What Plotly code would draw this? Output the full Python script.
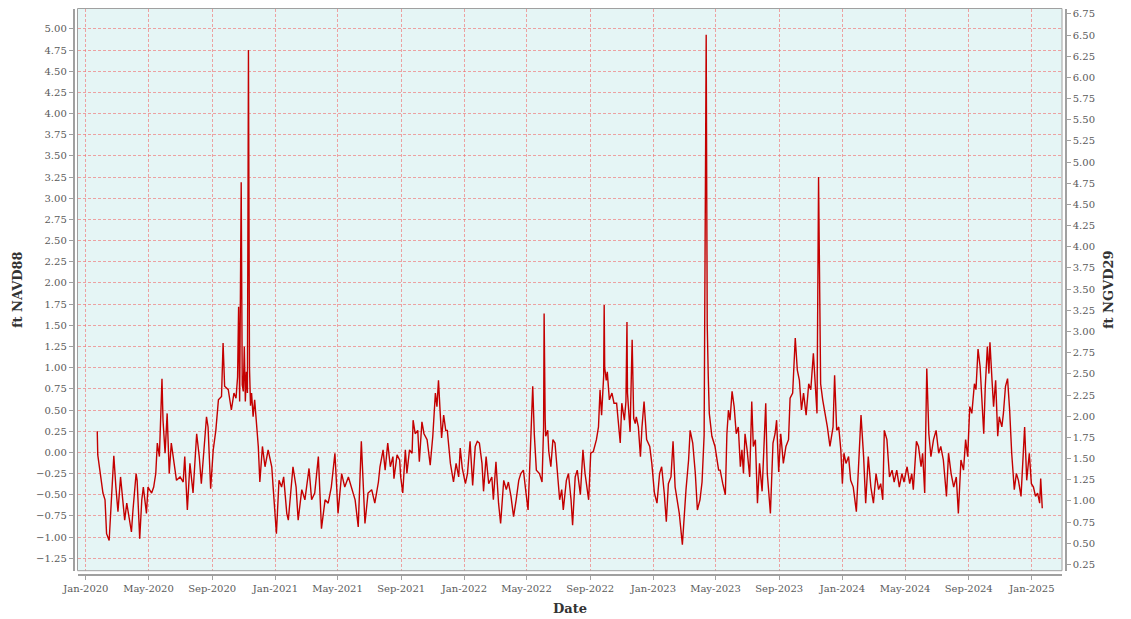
import pandas as pd
import plotly.graph_objects as go

# ---------------- data ----------------
START_DATE = "2020-01-01"          # day offsets below count from this date
NGVD29_OFFSET = 1.573              # ft NGVD29 = ft NAVD88 + offset

days_2020 = [22, 23, 27, 33, 37, 40, 45, 48, 53, 54, 58, 62, 67, 71, 75, 79, 84, 88, 91, 97,
             99, 104, 108, 111, 117, 120, 127, 131, 135, 138, 142, 147, 149, 153, 157, 161, 165, 169, 175, 182,
             188, 191, 196, 201, 207, 214, 219, 223, 228, 233, 236, 241, 246, 251, 256, 262, 265, 268, 275, 281,
             286, 290, 293, 295, 297, 300, 302, 304, 306, 308, 310, 312, 314, 316, 318, 320, 323, 326, 333, 336,
             341, 346, 352, 359, 362, 368, 373, 378, 382, 388, 391, 395, 400, 406, 410, 417, 423, 431, 436, 442,
             449, 455, 462, 468, 474, 481, 487, 494, 500, 507, 513, 520, 526, 532, 539, 545, 552, 558, 565]
level_2020 = [0.25, -0.03, -0.21, -0.48, -0.56, -0.96, -1.04, -0.72, -0.09, -0.04,
              -0.41, -0.70, -0.29, -0.52, -0.80, -0.60, -0.80, -0.94, -0.68, -0.25,
              -0.33, -1.02, -0.56, -0.41, -0.72, -0.41, -0.48, -0.41, -0.25, 0.11,
              -0.05, 0.87, 0.38, -0.01, 0.46, -0.25, 0.11, -0.09, -0.33, -0.29,
              -0.35, -0.05, -0.68, -0.13, -0.48, 0.22, -0.05, -0.37, 0.03, 0.42,
              0.30, -0.43, 0.03, 0.26, 0.62, 0.66, 1.29, 0.78, 0.74, 0.50,
              0.70, 0.64, 0.89, 1.72, 0.60, 3.19, 0.80, 0.72, 1.25, 0.60,
              0.95, 0.70, 4.75, 1.00, 0.55, 0.70, 0.42, 0.62, 0.07, -0.35,
              0.07, -0.17, 0.03, -0.17, -0.44, -0.96, -0.33, -0.41, -0.29, -0.72,
              -0.80, -0.48, -0.17, -0.41, -0.80, -0.44, -0.56, -0.19, -0.56, -0.48,
              -0.05, -0.90, -0.56, -0.60, -0.41, -0.01, -0.72, -0.25, -0.41, -0.29,
              -0.41, -0.56, -0.88, 0.13, -0.84, -0.48, -0.44, -0.60, -0.35]

days_2021_23 = [568, 574, 578, 583, 588, 593, 595, 601, 606, 608, 612, 617, 620, 625, 630, 632, 636, 641, 644, 649,
                653, 659, 665, 670, 675, 678, 681, 684, 687, 691, 695, 698, 704, 710, 715, 720, 723, 727, 733, 737,
                742, 747, 752, 756, 760, 765, 768, 773, 778, 784, 787, 792, 797, 801, 807, 812, 816, 821, 826, 831,
                836, 840, 845, 850, 854, 858, 863, 866, 870, 876, 881, 884, 885, 887, 888, 892, 894, 898, 902, 906,
                911, 915, 919, 922, 928, 932, 937, 940, 945, 949, 955, 960, 964, 971, 975, 980, 986, 990, 993, 996,
                1000, 1001, 1002, 1005, 1007, 1011, 1016, 1020, 1025, 1029, 1032, 1035, 1040, 1043, 1045, 1046, 1048,
                1051, 1055, 1058, 1061, 1063, 1067, 1071, 1074, 1078, 1083, 1089, 1093, 1098, 1103, 1108, 1112, 1117,
                1121, 1125, 1130, 1134, 1138, 1143, 1146, 1152, 1155, 1159, 1164, 1167, 1172, 1177, 1181, 1186, 1190,
                1194, 1198, 1200, 1202, 1204, 1209, 1215, 1222]
level_2021_23 = [-0.17, 0.03, -0.21, 0.11, -0.17, -0.05, -0.31, -0.03, -0.09, -0.29,
                 -0.48, 0.03, -0.25, 0.03, -0.01, 0.38, 0.22, 0.26, -0.11, 0.36,
                 0.22, 0.15, -0.15, 0.19, 0.70, 0.54, 0.85, 0.50, 0.17, 0.44,
                 0.26, 0.26, -0.13, -0.35, -0.13, -0.29, 0.05, -0.19, -0.37, -0.25,
                 0.13, -0.39, 0.07, 0.13, 0.11, -0.13, -0.46, -0.05, -0.37, -0.29,
                 -0.56, -0.11, -0.60, -0.84, -0.33, -0.44, -0.35, -0.52, -0.76, -0.56,
                 -0.33, -0.25, -0.21, -0.48, -0.68, -0.05, 0.78, 0.22, -0.21, -0.25,
                 -0.35, 0.30, 1.64, 0.40, 0.19, 0.26, 0.01, -0.17, 0.15, 0.11,
                 -0.25, -0.56, -0.44, -0.68, -0.33, -0.25, -0.56, -0.86, -0.29, -0.21,
                 -0.50, 0.03, -0.25, -0.56, -0.01, 0.01, 0.15, 0.30, 0.74, 0.44,
                 0.90, 1.74, 1.00, 0.85, 0.95, 0.62, 0.70, 0.58, 0.58, 0.34,
                 0.11, 0.58, 0.38, 0.60, 1.54, 0.70, 0.50, 0.24, 1.33, 0.40,
                 0.34, 0.42, 0.30, -0.05, 0.30, 0.60, 0.15, 0.07, -0.13, -0.48,
                 -0.60, -0.25, -0.17, -0.48, -0.82, -0.37, -0.29, 0.13, -0.41, -0.60,
                 -0.72, -1.09, -0.76, -0.44, -0.09, 0.26, 0.11, -0.25, -0.68, -0.56,
                 -0.35, 0.20, 4.93, 1.50, 0.90, 0.46, 0.19, 0.07, -0.21]

days_2023_25 = [1225, 1230, 1235, 1238, 1241, 1244, 1248, 1252, 1256, 1260, 1264, 1267, 1270, 1273, 1277, 1282,
                1286, 1289, 1293, 1297, 1301, 1306, 1309, 1313, 1316, 1322, 1327, 1331, 1334, 1338, 1342, 1347,
                1352, 1357, 1360, 1365, 1370, 1374, 1378, 1382, 1386, 1391, 1396, 1400, 1405, 1409, 1412, 1415,
                1417, 1419, 1423, 1428, 1432, 1437, 1443, 1446, 1450, 1454, 1458, 1461, 1464, 1468, 1473, 1477,
                1482, 1488, 1492, 1497, 1502, 1506, 1511, 1516, 1521, 1526, 1531, 1535, 1539, 1542, 1547, 1552,
                1557, 1561, 1566, 1571, 1576, 1580, 1586, 1591, 1595, 1598, 1604, 1608, 1613, 1616, 1620, 1624,
                1628, 1632, 1637, 1642, 1647, 1651, 1656, 1662, 1666, 1671, 1676, 1681, 1685, 1690, 1695, 1699,
                1703, 1707, 1711, 1716, 1719, 1723, 1727, 1731, 1734, 1737, 1741, 1744, 1746, 1750, 1753, 1757,
                1761, 1764, 1769, 1772, 1776, 1780, 1784, 1788, 1793, 1797, 1801, 1806, 1810, 1813, 1817, 1822,
                1826, 1830, 1834, 1838, 1842, 1844, 1847]
level_2023_25 = [-0.21, -0.37, -0.50, 0.22, 0.50, 0.38, 0.72, 0.54, 0.22, 0.30,
                 -0.17, 0.03, -0.25, 0.22, 0.03, -0.29, 0.60, 0.07, 0.15, -0.60,
                 -0.13, -0.46, -0.01, 0.58, -0.25, -0.72, 0.11, 0.22, 0.38, -0.23,
                 0.22, -0.13, 0.07, 0.15, 0.64, 0.70, 1.35, 0.97, 0.85, 0.50,
                 0.70, 0.44, 0.81, 0.74, 1.17, 0.70, 0.46, 3.25, 1.56, 0.81,
                 0.62, 0.46, 0.30, 0.07, 0.30, 0.91, 0.26, 0.30, 0.03, -0.37,
                 -0.01, -0.13, -0.05, -0.33, -0.41, -0.70, -0.17, 0.44, -0.05, -0.60,
                 -0.05, -0.41, -0.60, -0.25, -0.44, -0.37, -0.56, 0.26, 0.15, -0.29,
                 -0.21, -0.35, -0.21, -0.41, -0.25, -0.35, -0.17, -0.37, -0.25, -0.44,
                 0.13, 0.07, -0.17, -0.01, -0.48, 0.99, 0.22, -0.05, 0.15, 0.26,
                 -0.01, 0.07, -0.09, -0.52, -0.01, -0.25, -0.41, -0.29, -0.72, -0.09,
                 -0.21, 0.15, -0.05, 0.54, 0.46, 0.81, 0.74, 1.22, 1.01, 0.62,
                 0.22, 0.78, 1.25, 0.93, 1.30, 0.85, 0.54, 0.85, 0.19, 0.42,
                 0.30, 0.46, 0.78, 0.87, 0.50, -0.01, -0.44, -0.25, -0.33, -0.52,
                 -0.05, 0.30, -0.33, -0.01, -0.37, -0.41, -0.52, -0.48, -0.60, -0.31,
                 -0.66]

Y_LEFT_RANGE = [-1.397, 5.24]
X_PAD_FRACTION = 0.0209

# ---------------- build series ----------------
day_offsets = days_2020 + days_2021_23 + days_2023_25
level_navd88 = level_2020 + level_2021_23 + level_2023_25
assert len(day_offsets) == len(level_navd88)

start = pd.Timestamp(START_DATE)
dates = start + pd.to_timedelta(day_offsets, unit="D")
level_ngvd29 = [v + NGVD29_OFFSET for v in level_navd88]

span = dates.max() - dates.min()
x_range = [dates.min() - span * X_PAD_FRACTION, dates.max() + span * X_PAD_FRACTION]
y_right_range = [Y_LEFT_RANGE[0] + NGVD29_OFFSET, Y_LEFT_RANGE[1] + NGVD29_OFFSET]

# ---------------- layout geometry ----------------
# the page body has an 8px margin, so the figure starts 8px in from the window corner
PAGE_W, PAGE_H, BODY = 1131, 619, 8
W, H = PAGE_W - BODY, PAGE_H - BODY


def px(page_x):
    return (page_x - BODY) / W


def py(page_y):
    return (H - (page_y - BODY)) / H


XD = [px(77.5), px(1062)]
YD = [py(570.7), py(8.5)]
LEFT_AXIS_POS = px(73.5)
RIGHT_AXIS_POS = px(1066)
BOTTOM_AXIS_POS = py(575)

FONT = "DejaVu Serif"
TICK_COLOR = "#5a5a5a"
TITLE_COLOR = "#333333"
GRID_COLOR = "rgba(240,110,110,0.62)"
AXIS_LINE = "#a0a0a0"

fig = go.Figure()
fig.add_trace(go.Scatter(
    x=dates, y=level_navd88, mode="lines",
    line=dict(color="#C40000", width=1.4),
    name="ft NAVD88", hoverinfo="x+y",
))
fig.add_trace(go.Scatter(
    x=dates, y=level_ngvd29, mode="lines", yaxis="y2",
    line=dict(color="rgba(0,0,0,0)", width=0),
    name="ft NGVD29", hoverinfo="skip", showlegend=False,
))

fig.update_layout(
    width=W, height=H,
    margin=dict(l=0, r=0, t=0, b=0),
    paper_bgcolor="white",
    plot_bgcolor="#E5F5F5",
    showlegend=False,
    font=dict(family=FONT, size=10, color=TICK_COLOR),
    xaxis=dict(
        domain=XD, anchor="free", position=BOTTOM_AXIS_POS,
        type="date", range=x_range,
        tick0="2020-01-01", dtick="M4", tickformat="%b-%Y",
        ticks="outside", ticklen=4, tickcolor=AXIS_LINE, tickwidth=1,
        showline=True, linecolor=AXIS_LINE, linewidth=1.5,
        showgrid=True, gridcolor=GRID_COLOR, gridwidth=1, griddash="3px,2px",
        zeroline=False, automargin=False,
        tickfont=dict(family=FONT, size=10, color=TICK_COLOR),
    ),
    yaxis=dict(
        domain=YD, anchor="free", position=LEFT_AXIS_POS,
        range=Y_LEFT_RANGE, tick0=0, dtick=0.25, tickformat=".2f",
        ticks="outside", ticklen=4, tickcolor=AXIS_LINE, tickwidth=1,
        showline=True, linecolor=AXIS_LINE, linewidth=1.5,
        showgrid=True, gridcolor=GRID_COLOR, gridwidth=1, griddash="3px,2px",
        zeroline=False, automargin=False,
        tickfont=dict(family=FONT, size=10, color=TICK_COLOR),
    ),
    yaxis2=dict(
        overlaying="y", side="right", anchor="free", position=RIGHT_AXIS_POS,
        range=y_right_range, tick0=0, dtick=0.25, tickformat=".2f",
        ticks="outside", ticklen=4, tickcolor=AXIS_LINE, tickwidth=1,
        showline=True, linecolor=AXIS_LINE, linewidth=1.5,
        showgrid=False, zeroline=False, automargin=False,
        tickfont=dict(family=FONT, size=10, color=TICK_COLOR),
    ),
)

# plot-area border
fig.add_shape(type="rect", xref="paper", yref="paper",
              x0=XD[0], x1=XD[1], y0=YD[0], y1=YD[1],
              line=dict(color="#a0a0a0", width=1), layer="above")

title_font = dict(family=FONT, size=13, color=TITLE_COLOR)
fig.add_annotation(text="<b>ft NAVD88</b>", xref="paper", yref="paper",
                   x=px(17), y=py(290), textangle=-90, showarrow=False,
                   xanchor="center", yanchor="middle", font=title_font)
fig.add_annotation(text="<b>ft NGVD29</b>", xref="paper", yref="paper",
                   x=px(1108), y=py(290), textangle=-90, showarrow=False,
                   xanchor="center", yanchor="middle", font=title_font)
fig.add_annotation(text="<b>Date</b>", xref="paper", yref="paper",
                   x=px(570), y=py(608), showarrow=False,
                   xanchor="center", yanchor="middle", font=title_font)

fig.write_html("out.html")
